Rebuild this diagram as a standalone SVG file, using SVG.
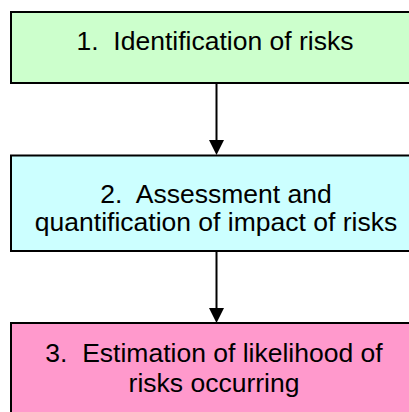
<svg xmlns="http://www.w3.org/2000/svg" width="409" height="412" viewBox="0 0 409 412">
<style>
.box{stroke:#000;stroke-width:2}
.t{font-family:"Liberation Sans",Arial,sans-serif;font-size:26.5px;fill:#000;text-anchor:middle}
.c{stroke:#000;stroke-width:2;fill:none}
</style>
<rect width="409" height="412" fill="#fff"/>
<g id="connectors">
<line class="c" x1="216.5" y1="83" x2="216.5" y2="142"/>
<polygon points="209,140 224,140 216.5,155" fill="#000"/>
<line class="c" x1="216.5" y1="251" x2="216.5" y2="310"/>
<polygon points="209,308 224,308 216.5,323" fill="#000"/>
</g>
<g id="n1">
<rect class="box" x="11" y="12" width="410" height="71" fill="#CCFFCC"/>
<text class="t" x="215" y="50" xml:space="preserve">1.  Identification of risks</text>
</g>
<g id="n2">
<rect class="box" x="11" y="155.5" width="410" height="95.5" fill="#CCFFFF"/>
<text class="t" x="216" y="203" xml:space="preserve">2.  Assessment and</text>
<text class="t" x="216" y="231">quantification of impact of risks</text>
</g>
<g id="n3">
<rect class="box" x="11" y="323" width="410" height="100" fill="#FF99CC"/>
<text class="t" x="214" y="362" xml:space="preserve">3.  Estimation of likelihood of</text>
<text class="t" x="214" y="392">risks occurring</text>
</g>
</svg>
